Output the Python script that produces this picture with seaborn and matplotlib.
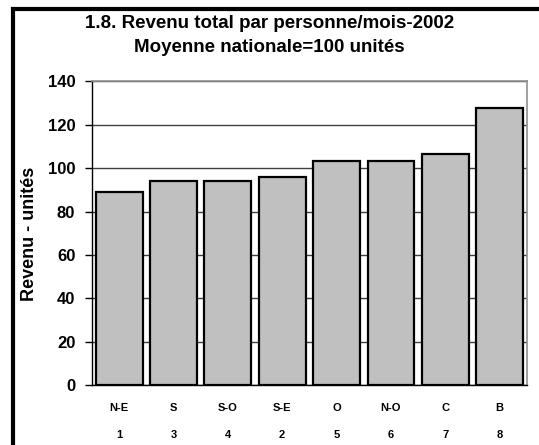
import matplotlib
matplotlib.use("Agg")
import matplotlib.pyplot as plt
import seaborn as sns
import pandas as pd
from matplotlib.patches import Rectangle

# data
regions = ["N-E", "S", "S-O", "S-E", "O", "N-O", "C", "B"]
ranks = ["1", "3", "4", "2", "5", "6", "7", "8"]
revenu = [89.2, 94.1, 94.0, 95.8, 103.2, 103.2, 106.6, 127.6]

sns.set_style("white")
plt.rcParams["font.family"] = ["Liberation Sans", "DejaVu Sans"]
plt.rcParams["font.weight"] = "bold"
plt.rcParams["text.color"] = "black"
plt.rcParams["axes.labelcolor"] = "black"
plt.rcParams["xtick.color"] = "black"
plt.rcParams["ytick.color"] = "black"

df = pd.DataFrame({"region": [f"{r}\n\n{k}" for r, k in zip(regions, ranks)],
                   "revenu": revenu})

fig = plt.figure(figsize=(5.39, 4.45), dpi=100)
ax = fig.add_axes([0.1707, 0.1342, 0.8065, 0.6827])

sns.barplot(data=df, x="region", y="revenu", color="#c0c0c0", saturation=1,
            edgecolor="black", linewidth=1.6, width=0.86, ax=ax, zorder=3)

ax.set_ylim(0, 140)
ax.set_yticks(range(0, 141, 20))
ax.yaxis.grid(True, color="#404040", linewidth=1.0, zorder=0)
ax.set_axisbelow(True)
ax.tick_params(axis="y", left=True, length=5, width=1, colors="black",
               labelsize=12, pad=7)
ax.tick_params(axis="x", bottom=False, labelsize=8, pad=9, colors="black")
for lab in ax.get_xticklabels() + ax.get_yticklabels():
    lab.set_fontweight("bold")
for lab in ax.get_xticklabels():
    lab.set_linespacing(1.45)

ax.set_xlabel("")
ax.set_ylabel("Revenu - unités", fontsize=13, fontweight="bold", labelpad=7,
              color="black")

for side in ["top", "right"]:
    ax.spines[side].set_color("#909090")
    ax.spines[side].set_linewidth(1.2)
for side in ["left", "bottom"]:
    ax.spines[side].set_color("black")
    ax.spines[side].set_linewidth(1.0)

fig.text(0.5, 0.947, "1.8. Revenu total par personne/mois-2002",
         ha="center", va="center", fontsize=13.5, fontweight="bold", color="black")
fig.text(0.5, 0.893, "Moyenne nationale=100 unités",
         ha="center", va="center", fontsize=13.5, fontweight="bold", color="black")

# outer chart frame, cropped on the right and bottom like the original
fig.patches.append(Rectangle((0.025, -0.05), 1.2, 1.03, transform=fig.transFigure,
                             fill=False, edgecolor="black", linewidth=3))

fig.savefig("out.png", dpi=100)
